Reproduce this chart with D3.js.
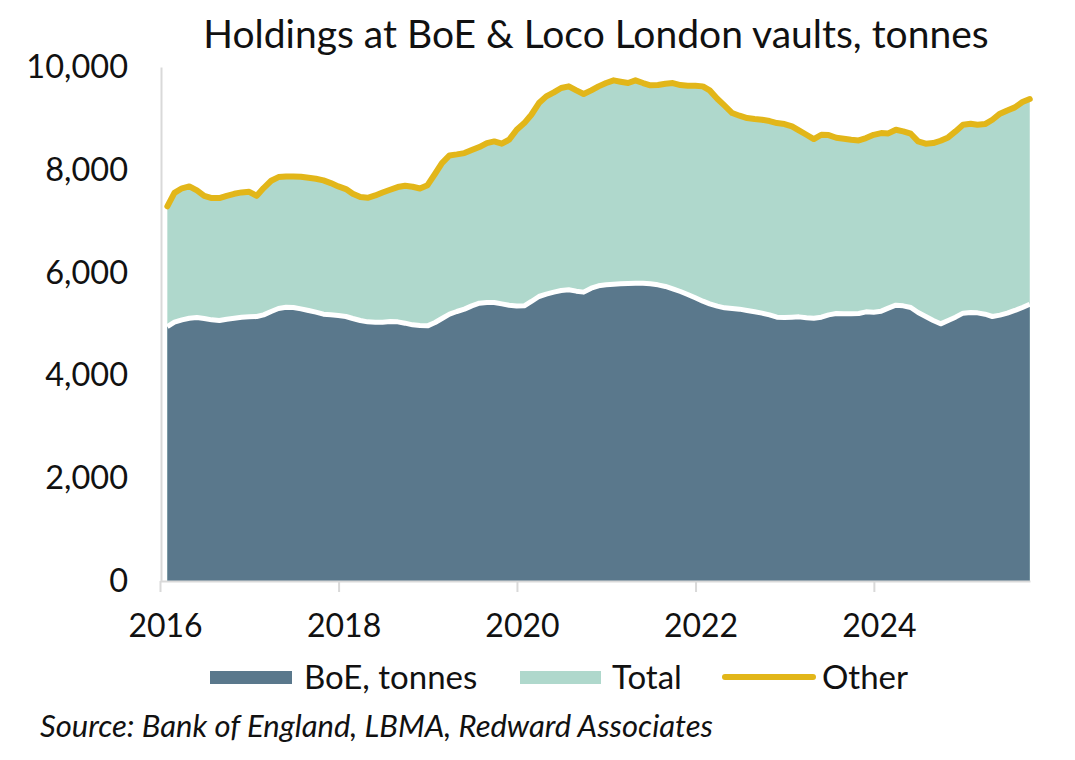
<!DOCTYPE html>
<meta charset="utf-8">
<script src="https://d3js.org/d3.v7.js"></script>
<style>
  body { margin: 0; background: #fff; }
  text { font-family: Lato, "Open Sans", sans-serif; fill: #111; }
</style>
<body>
<div id="chart"></div>
<script>
// monthly, Jan 2016 .. Sep 2025 (month-end readings)
const startMonth = new Date(2016, 0, 1);
const total = [
  7290, 7550, 7640, 7677, 7600, 7494, 7449, 7449, 7494, 7533, 7560, 7572,
  7494, 7644, 7787, 7858, 7871, 7871, 7865, 7845, 7825, 7793, 7741, 7677,
  7625, 7534, 7469, 7456, 7501, 7559, 7612, 7664, 7689, 7670, 7637, 7700,
  7923, 8131, 8280, 8300, 8325, 8384, 8442, 8520, 8552, 8507, 8585, 8780,
  8909, 9071, 9298, 9428, 9506, 9591, 9623, 9545, 9474, 9545, 9623, 9688,
  9740, 9714, 9688, 9740, 9688, 9643, 9649, 9675, 9688, 9649, 9636, 9636,
  9623, 9545, 9383, 9247, 9104, 9052, 9006, 8987, 8974, 8948, 8909, 8890,
  8844, 8767, 8682, 8598, 8682, 8676, 8624, 8605, 8585, 8572, 8617, 8680,
  8715, 8708, 8780, 8747, 8702, 8552, 8507, 8520, 8565, 8630, 8747, 8877,
  8896, 8877, 8890, 8974, 9091, 9155, 9214, 9318, 9376
];
const boe = [
  4950, 5035, 5081, 5113, 5126, 5107, 5081, 5068, 5094, 5113, 5133, 5139,
  5146, 5178, 5243, 5301, 5327, 5321, 5295, 5263, 5230, 5191, 5178, 5165,
  5146, 5107, 5068, 5042, 5035, 5035, 5048, 5042, 5016, 4984, 4970, 4964,
  5029, 5107, 5191, 5243, 5289, 5353, 5405, 5418, 5418, 5392, 5366, 5350,
  5353, 5438, 5535, 5580, 5620, 5652, 5665, 5639, 5620, 5697, 5743, 5762,
  5775, 5782, 5788, 5794, 5794, 5782, 5762, 5730, 5684, 5632, 5574, 5510,
  5444, 5392, 5347, 5314, 5301, 5289, 5263, 5237, 5211, 5178, 5133, 5126,
  5133, 5139, 5120, 5113, 5133, 5178, 5204, 5198, 5198, 5204, 5237, 5230,
  5250, 5308, 5366, 5353, 5321, 5224, 5146, 5068, 5003, 5068, 5133, 5211,
  5224, 5217, 5191, 5146, 5172, 5211, 5263, 5321, 5385
];
const yTicks = [0, 2000, 4000, 6000, 8000, 10000];
const xTickYears = [2016, 2018, 2020, 2022, 2024];

const width = 1075, height = 760;
const colBoe = "#5a788c", colTotal = "#afd8cc", colOther = "#e2b619";

// month-end dates
const dates = total.map((_, i) => new Date(startMonth.getFullYear(), startMonth.getMonth() + i + 1, 0));
const data = dates.map((d, i) => ({date: d, total: total[i], boe: boe[i]}));

const x = d3.scaleTime()
  .domain([new Date(2016, 0, 1), new Date(2025, 9, 1)])
  .range([160, 1030]);
const y = d3.scaleLinear().domain([0, 10000]).range([581, 67]);

const svg = d3.select("#chart").append("svg")
  .attr("width", width).attr("height", height);

svg.append("text")
  .attr("x", 596).attr("y", 48)
  .attr("text-anchor", "middle")
  .style("font-size", "39px")
  .text("Holdings at BoE & Loco London vaults, tonnes");

// areas
svg.append("path").datum(data)
  .attr("fill", colTotal)
  .attr("d", d3.area().x(d => x(d.date)).y0(y(0)).y1(d => y(d.total)));

svg.append("path").datum(data)
  .attr("fill", colBoe)
  .attr("d", d3.area().x(d => x(d.date)).y0(y(0)).y1(d => y(d.boe)));

svg.append("path").datum(data)
  .attr("fill", "none").attr("stroke", "#fff").attr("stroke-width", 5)
  .attr("stroke-linejoin", "round")
  .attr("d", d3.line().x(d => x(d.date)).y(d => y(d.boe)));

svg.append("path").datum(data)
  .attr("fill", "none").attr("stroke", colOther).attr("stroke-width", 6)
  .attr("stroke-linejoin", "round").attr("stroke-linecap", "round")
  .attr("d", d3.line().x(d => x(d.date)).y(d => y(d.total)));

// axes
const xAxis = svg.append("g").attr("transform", `translate(0,${y(0)})`)
  .call(d3.axisBottom(x)
    .tickValues(xTickYears.map(yr => new Date(yr, 0, 1)))
    .tickFormat(d3.timeFormat("%Y"))
    .tickSize(11).tickSizeOuter(0).tickPadding(22));
xAxis.select(".domain").attr("stroke", "#d9d9d9").attr("stroke-width", 2);
xAxis.selectAll(".tick line").attr("stroke", "#d9d9d9").attr("stroke-width", 2);
xAxis.selectAll("text").style("font-size", "32px").attr("fill", "#111")
  .attr("font-family", null).attr("dx", 5);

const yAxis = svg.append("g").attr("transform", `translate(161,0)`)
  .call(d3.axisLeft(y).tickValues(yTicks).tickFormat(d3.format(","))
    .tickSize(0).tickPadding(33));
yAxis.select(".domain").attr("stroke", "#d9d9d9").attr("stroke-width", 2);
yAxis.selectAll("text").style("font-size", "32.5px").attr("fill", "#111").attr("font-family", null);

// legend
const legend = svg.append("g");
legend.append("rect").attr("x", 210).attr("y", 671).attr("width", 82).attr("height", 13).attr("fill", colBoe);
legend.append("text").attr("x", 304).attr("y", 689).style("font-size", "33px").text("BoE, tonnes");
legend.append("rect").attr("x", 520).attr("y", 671).attr("width", 81).attr("height", 13).attr("fill", colTotal);
legend.append("text").attr("x", 612).attr("y", 689).style("font-size", "33px").text("Total");
legend.append("line").attr("x1", 725).attr("x2", 813).attr("y1", 677).attr("y2", 677)
  .attr("stroke", colOther).attr("stroke-width", 6).attr("stroke-linecap", "round");
legend.append("text").attr("x", 822).attr("y", 689).style("font-size", "33px").text("Other");

svg.append("text")
  .attr("x", 40).attr("y", 737)
  .style("font-size", "31px").style("font-style", "italic")
  .text("Source: Bank of England, LBMA, Redward Associates");
</script>
</body>
